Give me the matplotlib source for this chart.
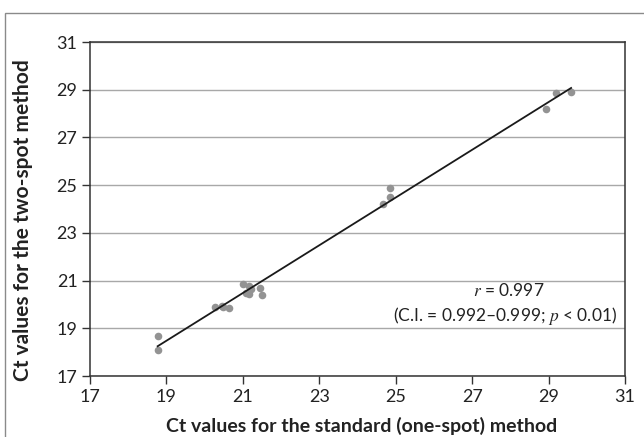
import numpy as np
import matplotlib
matplotlib.use("Agg")
import matplotlib.pyplot as plt
from matplotlib.patches import Rectangle

# Ct values, standard (one-spot) vs two-spot method
ct_standard = [18.77, 18.77, 20.27, 20.45, 20.47, 20.63, 21.01, 21.08, 21.17,
               21.17, 21.21, 21.46, 21.50, 24.66, 24.86, 24.86, 28.93, 29.20, 29.59]
ct_twospot = [18.67, 18.08, 19.90, 19.94, 19.90, 19.87, 20.84, 20.48, 20.79,
              20.44, 20.65, 20.68, 20.41, 24.20, 24.49, 24.90, 28.18, 28.86, 28.89]
ticks = [17, 19, 21, 23, 25, 27, 29, 31]

plt.rcParams['font.family'] = ['Lato', 'DejaVu Sans']

fig = plt.figure(figsize=(6.44, 4.37), dpi=100)
ax = fig.add_axes([90/644, 1 - 376/437, 535/644, 334/437])

# outer frame around the chart
fig.patches.append(Rectangle((5/644, -0.05), 1.0, 1 - 13/437 + 0.05,
                             transform=fig.transFigure, fill=False,
                             edgecolor='#8a8a8a', linewidth=1.0))

ax.scatter(ct_standard, ct_twospot, s=30, color='#939393', zorder=3, linewidths=0)

slope, intercept = np.polyfit(ct_standard, ct_twospot, 1)
xs = np.array([min(ct_standard), max(ct_standard)])
ax.plot(xs, slope*xs + intercept, color='#1a1a1a', linewidth=1.3, zorder=4)

ax.set_xlim(17, 31)
ax.set_ylim(17, 31)
ax.set_xticks(ticks)
ax.set_yticks(ticks)
ax.tick_params(direction='out', length=6, width=1, colors='#333333',
               labelsize=13, labelcolor='#222222', pad=3)
ax.yaxis.grid(True, color='#a8a8a8', linewidth=1)
ax.set_axisbelow(True)
for s in ax.spines.values():
    s.set_color('#333333')
    s.set_linewidth(1.1)

ax.set_xlabel('Ct values for the standard (one-spot) method',
              fontsize=14, fontweight='bold', color='#222222')
ax.xaxis.set_label_coords(0.508, -0.123)
ax.set_ylabel('Ct values for the two-spot method',
              fontsize=15, fontweight='bold', color='#222222')
ax.yaxis.set_label_coords(-0.1065, 0.467)

ax.text(0.783, 0.257, r'$\mathit{r}$ = 0.997', transform=ax.transAxes,
        ha='center', va='center', fontsize=12.5, color='#222222',
        math_fontfamily='stix')
ax.text(0.985, 0.181, r'(C.I. = 0.992–0.999; $\mathit{p}$ < 0.01)',
        transform=ax.transAxes, ha='right', va='center', fontsize=12.5,
        color='#222222', math_fontfamily='stix')

fig.savefig('out.png', dpi=100)
